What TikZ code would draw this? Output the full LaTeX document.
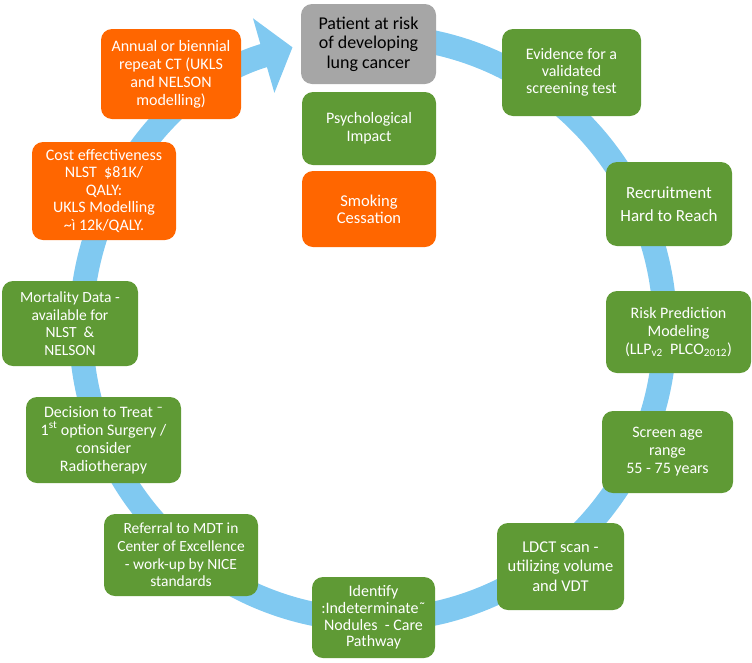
\documentclass[tikz,border=0pt]{standalone}
\usepackage{fontspec}
\setmainfont{Carlito}
\usepackage{tikz}
\usetikzlibrary{arrows.meta,positioning}
\definecolor{cgreen}{HTML}{5F9A35}
\definecolor{corange}{HTML}{FF6600}
\definecolor{cgrey}{HTML}{A6A6A6}
\definecolor{cring}{HTML}{80C9F1}
\tikzset{
  box/.style={rounded corners=11pt, inner sep=2pt, align=center, text=white,
    font=\fontsize{16}{18}\selectfont},
  gbox/.style={box, fill=cgreen},
  obox/.style={box, fill=corange},
  pbox/.style={box, fill=cgrey, text=black, font=\fontsize{18}{19.5}\selectfont},
  ring/.style={draw=cring, line width=24pt, -{Triangle[length=30pt, width=76pt]}},
}

\begin{document}
\begin{tikzpicture}[x=1pt,y=-1pt]
\useasboundingbox (0,0) rectangle (752,662);
\coordinate (c) at (373,328);
\draw[ring] (c) ++(-85:292) arc[start angle=-85, end angle=254, radius=292];
\node[pbox, minimum width=135pt, minimum height=80pt] (pat) at (368.5,44) {Patient at risk\\of developing\\lung cancer};
\node[gbox, minimum width=134pt, minimum height=73pt] (psy) at (369,128.5) {Psychological\\Impact};
\node[obox, minimum width=134pt, minimum height=76pt, font=\fontsize{16.5}{17}\selectfont] (smk) at (369,209) {Smoking\\Cessation};
\node[gbox, minimum width=139pt, minimum height=87pt, font=\fontsize{16}{17}\selectfont] (evi) at (571.5,72.5) {Evidence for a\\validated\\screening test};
\node[gbox, minimum width=126pt, minimum height=84pt, font=\fontsize{17}{18}\selectfont] (rec) at (669,204) {Recruitment\\[5pt]Hard to Reach};
\node[gbox, minimum width=145pt, minimum height=82pt] (risk) at (678.5,332) {Risk Prediction\\Modeling\\(LLP\textsubscript{v2}\ \ PLCO\textsubscript{2012})};
\node[gbox, minimum width=131pt, minimum height=82pt] (scr) at (667.5,452) {Screen age\\range\\55 - 75 years};
\node[gbox, minimum width=127pt, minimum height=87pt, font=\fontsize{16.5}{19.5}\selectfont] (ldct) at (560.5,566.5) {LDCT scan -\\utilizing volume\\and VDT};
\node[gbox, minimum width=123pt, minimum height=81pt, font=\fontsize{16}{16.6}\selectfont] (ident) at (373.5,617.5) {Identify\\:Indeterminate˜\\Nodules\ \ - Care\\Pathway};
\node[gbox, minimum width=154pt, minimum height=82pt, font=\fontsize{15.5}{17.7}\selectfont] (ref) at (181,555) {Referral to MDT in\\Center of Excellence\\- work-up by NICE\\standards};
\node[gbox, minimum width=155pt, minimum height=86pt] (dec) at (103.5,440) {Decision to Treat ¯\\1\textsuperscript{st} option Surgery /\\consider\\Radiotherapy};
\node[gbox, minimum width=136pt, minimum height=85pt, font=\fontsize{15.5}{17.5}\selectfont] (mort) at (70,323.5) {Mortality Data -\\available for\\NLST\ \ \&\\NELSON};
\node[obox, minimum width=144pt, minimum height=98pt, font=\fontsize{16}{17.5}\selectfont] (cost) at (104,191) {Cost effectiveness\\NLST\ \ \$81K/\\QALY:\\UKLS Modelling\\\textasciitilde ì 12k/QALY.};
\node[obox, minimum width=140pt, minimum height=90pt] (ann) at (171,74) {Annual or biennial\\repeat CT (UKLS\\and NELSON\\modelling)};
\end{tikzpicture}
\end{document}
